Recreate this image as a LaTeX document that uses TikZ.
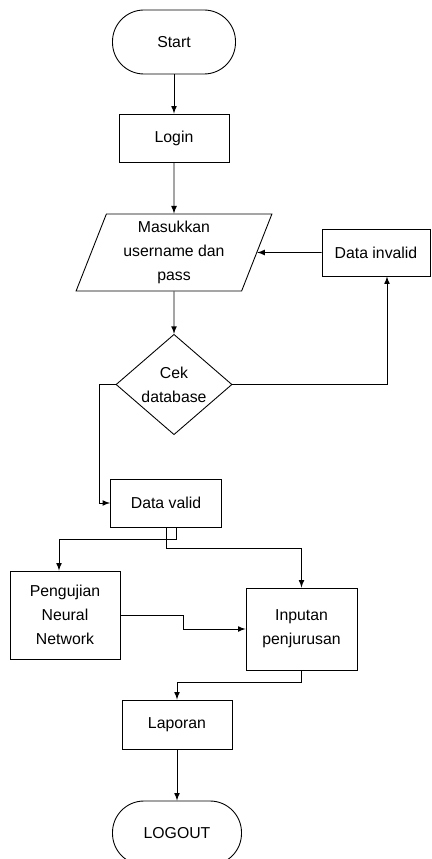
\documentclass[tikz,border=0pt]{standalone}
\usepackage{fontspec}
\setmainfont{Liberation Sans}
\usetikzlibrary{shapes.geometric, arrows, positioning}

\begin{document}
\begin{tikzpicture}[node distance=2cm, font=\fontsize{9}{13.5}\selectfont, line width=0.5pt, >=latex]
% Styles
\tikzstyle{terminal} = [rectangle, rounded corners=0.63cm, minimum height=1.28cm, text centered, draw]
\tikzstyle{process} = [rectangle, minimum width=2.2cm, minimum height=0.96cm, text centered, align=center, draw]
\tikzstyle{io} = [trapezium, trapezium left angle=70, trapezium right angle=110, trapezium stretches=true, minimum width=3.92cm, minimum height=1.54cm, inner sep=0pt, align=center, draw]
\tikzstyle{decision} = [diamond, minimum width=2.32cm, minimum height=1.94cm, inner sep=0pt, align=center, draw]

\useasboundingbox (0,0) rectangle (8.62,-17.18);

% Nodes
\node (start) [terminal, minimum width=2.46cm] at (3.48,-0.84) {Start};
\node (login) [process, below of=start, node distance=1.92cm] {Login};
\node (masuk) [io, below of=login, node distance=2.29cm] {Masukkan\\username dan\\pass};
\node (invalid) [process, right of=masuk, node distance=4.04cm, minimum width=2.16cm, minimum height=0.94cm] {Data invalid};
\node (cek) [decision, below of=masuk, node distance=2.64cm] {Cek\\database};
\node (valid) [process, minimum width=2.22cm] at (3.32,-10.06) {Data valid};
\node (uji) [process, minimum height=1.76cm] at (1.3,-12.3) {Pengujian\\Neural\\Network};
\node (jurusan) [process, minimum width=2.22cm, minimum height=1.64cm] at (6.03,-12.58) {Inputan\\penjurusan};
\node (laporan) [process, minimum height=0.98cm] at (3.54,-14.49) {Laporan};
\node (logout) [terminal, minimum width=2.58cm, below of=laporan, node distance=2.17cm] {LOGOUT};

% Arrows
\draw[->] (start) -- (login);
\draw[->] (login) -- (masuk);
\draw[->] (masuk) -- (cek);
\draw[->] (invalid.west) -- (masuk.east);
\draw[->] (cek.east) -| ([xshift=0.22cm]invalid.south);
\draw[->] (cek.west) -- ++(-0.32,0) |- (valid.west);
\draw[->] ([xshift=0.2cm]valid.south) -- ++(0,-0.24) -| ([xshift=-0.12cm]uji.north);
\draw[->] (valid.south) -- ++(0,-0.42) -| (jurusan.north);
\draw[->] (uji.east) -- ++(1.26,0) |- (jurusan.west);
\draw[->] (jurusan.south) -- ++(0,-0.24) -| (laporan.north);
\draw[->] (laporan) -- (logout);
\end{tikzpicture}
\end{document}
